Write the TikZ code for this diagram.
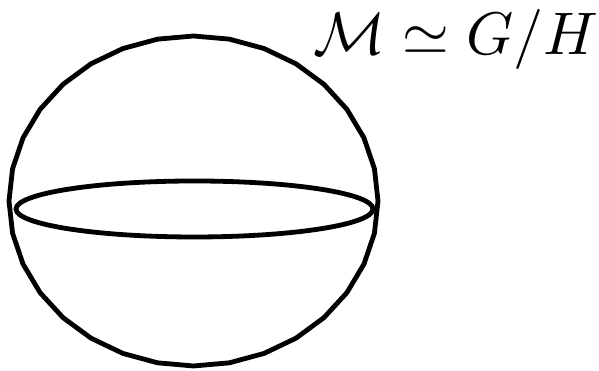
\documentclass[tikz,border=0pt]{standalone}
\usepackage{amsmath, amssymb}
\usepackage{tikz}
\usetikzlibrary{positioning, calc}
\tikzset{
	sphere/.style={draw, line width=0.8pt, line join=round},
	equator/.style={draw, line width=0.8pt},
	label/.style={inner sep=0pt}
}

\begin{document}
\begin{tikzpicture}[x=0.1664pt,y=-0.1664pt]
			\useasboundingbox (0,0) rectangle (599,371);
			% Sphere outline
			\draw[sphere] plot[samples=33, domain=0:360]
				({193.5+184.5*cos(\x)}, {201-165*sin(\x)}) -- cycle;
			% Equator
			\draw[equator] (194.5,209) ellipse [x radius=178.5, y radius=28];
			% Label
			\node[label, anchor=base] (M) at (456,55) {$\mathcal{M} \simeq G/H$};
		\end{tikzpicture}
\end{document}
